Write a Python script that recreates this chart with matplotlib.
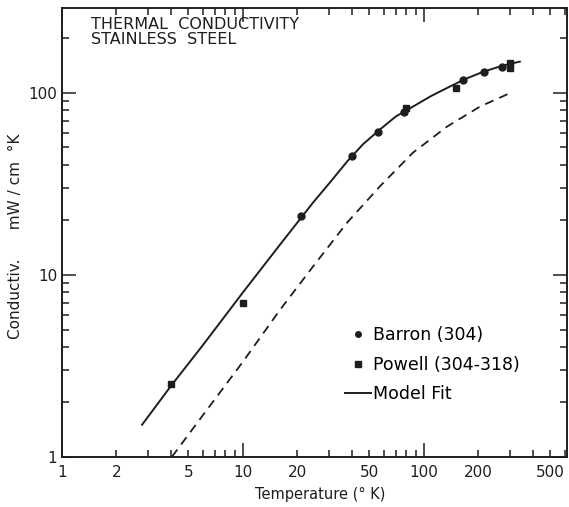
import matplotlib.pyplot as plt
from matplotlib.ticker import LogLocator, FixedLocator, FuncFormatter, NullFormatter

# ── data ──
barron_T = [21, 40, 56, 78, 165, 215, 270]
barron_k = [21, 45, 61, 78, 118, 129, 139]
powell_T = [4, 10, 80, 150, 300, 300]
powell_k = [2.5, 7.0, 82, 106, 146, 137]

# solid "Model Fit" curve
fit_T = [2.77, 4, 6, 10, 16, 24.4, 30, 37.6, 46, 57, 70, 87, 110, 134, 170, 212, 250, 288, 339]
fit_k = [1.5, 2.45, 4.1, 8.0, 14.6, 24.9, 31.8, 41.8, 52, 62.6, 74, 83.8, 96, 106, 119, 130, 137, 142.6, 148]

# dashed curve
dash_T = [4.05, 6, 10, 16, 24.4, 37.6, 57, 87, 134, 204, 310]
dash_k = [1.0, 1.69, 3.33, 6.4, 11.1, 19.3, 30.5, 46.8, 65, 83.8, 101]

x_labels = [1, 2, 5, 10, 20, 50, 100, 200, 500]
y_ticks = [1, 10, 100]

INK = "#1e1e1e"
plt.rcParams["font.family"] = "DejaVu Sans"

fig = plt.figure(figsize=(5.69, 5.07), dpi=100)
ax = fig.add_axes([0.109, 0.099, 0.888, 0.886])
ax.set_xscale("log")
ax.set_yscale("log")
ax.set_xlim(1, 620)
ax.set_ylim(1, 293)

ax.plot(fit_T, fit_k, color=INK, lw=1.4, label="Model Fit")
ax.plot(dash_T, dash_k, color=INK, lw=1.3, ls=(0, (5, 3.5)))
ax.plot(barron_T, barron_k, "o", color=INK, ms=5, ls="none", label="Barron (304)")
ax.plot(powell_T, powell_k, "s", color=INK, ms=5, ls="none", label="Powell (304-318)")


def xfmt(v, pos):
    for lab in x_labels:
        if abs(v - lab) < 1e-6 * lab:
            return str(lab)
    return ""


# decades get the long ticks, 2 and 5 are labelled on short ticks
ax.xaxis.set_major_locator(LogLocator(base=10, numticks=10))
ax.xaxis.set_major_formatter(FuncFormatter(xfmt))
ax.xaxis.set_minor_locator(LogLocator(base=10, subs=range(2, 10), numticks=20))
ax.xaxis.set_minor_formatter(FuncFormatter(xfmt))
ax.yaxis.set_major_locator(FixedLocator(y_ticks))
ax.yaxis.set_major_formatter(FuncFormatter(lambda v, p: f"{v:g}"))
ax.yaxis.set_minor_locator(LogLocator(base=10, subs=range(2, 10), numticks=20))
ax.yaxis.set_minor_formatter(NullFormatter())
ax.tick_params(which="both", direction="in", top=True, right=True, colors=INK,
               labelsize=11, width=1.1)
ax.tick_params(which="major", length=10)
ax.tick_params(which="minor", length=5)
ax.tick_params(axis="x", which="both", pad=6)
for s in ax.spines.values():
    s.set_linewidth(1.4)
    s.set_color(INK)

ax.set_xlabel("Temperature (° K)", fontsize=10.5, color=INK)
ax.xaxis.set_label_coords(0.51, -0.068)
ax.set_ylabel("Conductiv.      mW / cm  °K", fontsize=11, color=INK)
ax.yaxis.set_label_coords(-0.077, 0.49)

ax.text(0.057, 0.978, "THERMAL  CONDUCTIVITY\nSTAINLESS  STEEL", transform=ax.transAxes,
        ha="left", va="top", fontsize=11.5, color=INK, linespacing=1.0)

h, l = ax.get_legend_handles_labels()
order = [1, 2, 0]
ax.legend([h[i] for i in order], [l[i] for i in order], loc="center left",
          bbox_to_anchor=(0.53, 0.205), frameon=False, fontsize=12.5,
          handlelength=1.5, handletextpad=0.1, labelspacing=0.65, markerscale=0.8)

fig.savefig("out.png", dpi=100)
